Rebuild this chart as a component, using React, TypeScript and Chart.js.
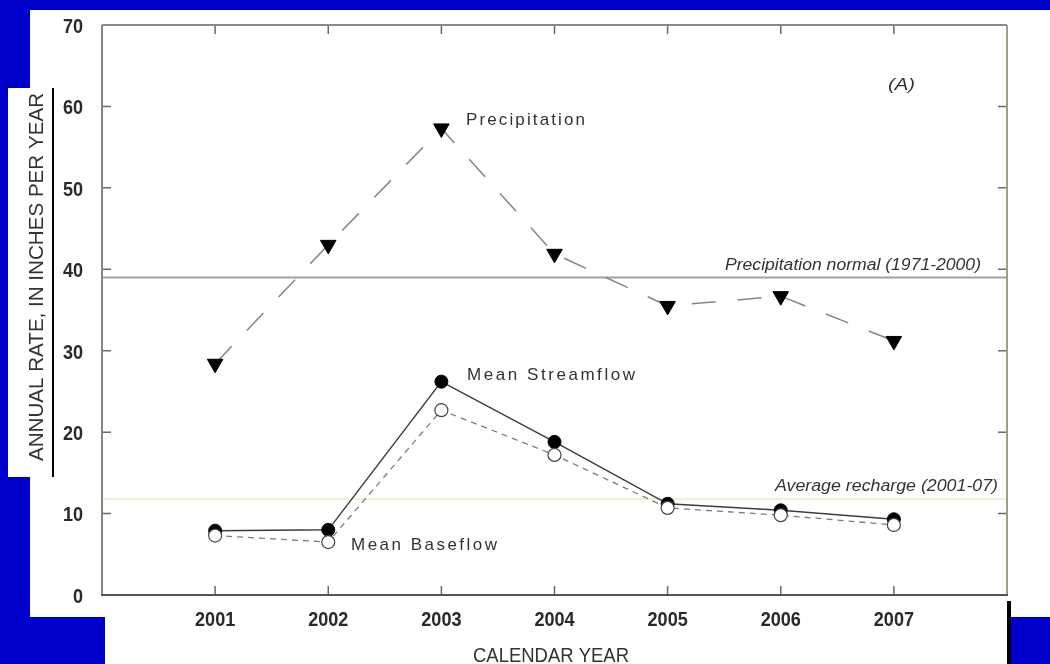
import React, { useEffect, useRef } from 'react';
import { Chart, registerables } from 'chart.js';

Chart.register(...registerables);

// ---- data ----
const years = [2001, 2002, 2003, 2004, 2005, 2006, 2007];
const precipitation = [28.4, 43.0, 57.3, 41.9, 35.5, 36.7, 31.2];
const streamflow = [7.9, 8.0, 26.2, 18.8, 11.2, 10.4, 9.3];
const baseflow = [7.3, 6.5, 22.7, 17.2, 10.7, 9.8, 8.6];
const xTickLabels = ['2001', '2002', '2003', '2004', '2005', '2006', '2007'];
const yTickValues = [0, 10, 20, 30, 40, 50, 60, 70];
const precipNormal = 39.0;
const avgRecharge = 11.8;
const xMin = 2000;
const xMax = 2008;

const TEXT = '#333333';
const SANS = "'Liberation Sans', Arial, sans-serif";

function fitText(
  ctx: CanvasRenderingContext2D,
  text: string,
  x: number,
  y: number,
  w: number,
  font: string,
  mode: 'scale' | 'space'
) {
  ctx.save();
  ctx.font = font;
  ctx.fillStyle = TEXT;
  ctx.textBaseline = 'middle';
  ctx.textAlign = 'left';
  (ctx as any).letterSpacing = '0px';
  const m = ctx.measureText(text).width;
  if (mode === 'space') {
    const s = (w - m) / (text.length - 1);
    (ctx as any).letterSpacing = s + 'px';
    ctx.fillText(text, x, y);
  } else {
    ctx.translate(x, y);
    ctx.scale(w / m, 1);
    ctx.fillText(text, 0, 0);
  }
  ctx.restore();
}

function narrowLabel(
  ctx: CanvasRenderingContext2D,
  text: string,
  x: number,
  y: number,
  align: 'center' | 'right'
) {
  ctx.save();
  ctx.font = `bold 21px ${SANS}`;
  ctx.fillStyle = '#2a2a2a';
  ctx.textBaseline = 'middle';
  ctx.textAlign = align;
  ctx.translate(x, y);
  ctx.scale(0.86, 1);
  ctx.fillText(text, 0, 0);
  ctx.restore();
}

const framePlugin = {
  id: 'framePlugin',
  beforeDatasetsDraw(chart: any) {
    const { ctx, chartArea: a, scales } = chart;
    const x = scales.x;
    const y = scales.y;
    ctx.save();
    // reference lines
    const yr = y.getPixelForValue(avgRecharge);
    ctx.strokeStyle = '#ebead0';
    ctx.lineWidth = 1.5;
    ctx.beginPath();
    ctx.moveTo(a.left, yr);
    ctx.lineTo(a.right, yr);
    ctx.stroke();
    const yn = y.getPixelForValue(precipNormal);
    ctx.strokeStyle = '#a2a2a2';
    ctx.lineWidth = 2;
    ctx.beginPath();
    ctx.moveTo(a.left, yn);
    ctx.lineTo(a.right, yn);
    ctx.stroke();

    // inward ticks
    ctx.strokeStyle = '#6a6a6a';
    ctx.lineWidth = 1.5;
    const tl = 9;
    x.ticks.forEach((t: any) => {
      if (!xTickLabels.includes(String(t.value))) return;
      const px = x.getPixelForValue(t.value);
      ctx.beginPath();
      ctx.moveTo(px, a.bottom);
      ctx.lineTo(px, a.bottom - tl);
      ctx.moveTo(px, a.top);
      ctx.lineTo(px, a.top + tl);
      ctx.stroke();
    });
    y.ticks.forEach((t: any) => {
      if (t.value <= y.min || t.value >= y.max) return;
      const py = y.getPixelForValue(t.value);
      ctx.beginPath();
      ctx.moveTo(a.left, py);
      ctx.lineTo(a.left + tl, py);
      ctx.moveTo(a.right, py);
      ctx.lineTo(a.right - tl, py);
      ctx.stroke();
    });

    // frame
    ctx.lineWidth = 2;
    ctx.strokeStyle = '#8a8a8a';
    ctx.beginPath();
    ctx.moveTo(a.left, a.top);
    ctx.lineTo(a.right, a.top);
    ctx.stroke();
    ctx.strokeStyle = '#a39c82';
    ctx.beginPath();
    ctx.moveTo(a.right, a.top);
    ctx.lineTo(a.right, a.bottom);
    ctx.stroke();
    ctx.strokeStyle = '#7f8a7f';
    ctx.beginPath();
    ctx.moveTo(a.left, a.top);
    ctx.lineTo(a.left, a.bottom);
    ctx.stroke();
    ctx.strokeStyle = '#555555';
    ctx.beginPath();
    ctx.moveTo(a.left - 1, a.bottom);
    ctx.lineTo(a.right + 1, a.bottom);
    ctx.stroke();

    // tick labels from the scales
    x.ticks.forEach((t: any) => {
      const s = String(t.value);
      if (!xTickLabels.includes(s)) return;
      narrowLabel(ctx, s, x.getPixelForValue(t.value), a.bottom + 25, 'center');
    });
    y.ticks.forEach((t: any) => {
      narrowLabel(ctx, String(t.value), a.left - 19, y.getPixelForValue(t.value) + 2, 'right');
    });
    ctx.restore();
  },
  afterDraw(chart: any) {
    const { ctx } = chart;
    fitText(ctx, 'Precipitation', 466, 120, 119, `17px ${SANS}`, 'space');
    fitText(ctx, 'Mean Streamflow', 467, 375, 168, `17px ${SANS}`, 'space');
    fitText(ctx, 'Mean Baseflow', 351, 545, 146, `17px ${SANS}`, 'space');
    fitText(ctx, 'Precipitation normal (1971-2000)', 725, 266, 256, `italic 16px ${SANS}`, 'scale');
    fitText(ctx, 'Average recharge (2001-07)', 775, 487, 223, `italic 16px ${SANS}`, 'scale');
    fitText(ctx, '(A)', 888, 85, 27, `italic 17px ${SANS}`, 'scale');
    fitText(ctx, 'CALENDAR YEAR', 473, 656, 156, `21px ${SANS}`, 'scale');
    ctx.save();
    ctx.translate(37, 277);
    ctx.rotate(-Math.PI / 2);
    fitText(ctx, 'ANNUAL RATE, IN INCHES PER YEAR', -184, 0, 368, `21px ${SANS}`, 'scale');
    ctx.restore();
  },
};

export default function App() {
  const ref = useRef<HTMLCanvasElement | null>(null);
  useEffect(() => {
    if (!ref.current) return;
    const chart = new Chart(ref.current, {
      type: 'line',
      data: {
        datasets: [
          {
            label: 'Mean Baseflow',
            data: years.map((x, i) => ({ x, y: baseflow[i] })),
            order: 0,
            borderColor: '#7c7c7c',
            borderWidth: 1.3,
            borderDash: [6, 5],
            pointStyle: 'circle',
            pointRadius: 6.5,
            pointBackgroundColor: '#ffffff',
            pointBorderColor: '#444444',
            pointBorderWidth: 1.2,
            tension: 0,
          },
          {
            label: 'Mean Streamflow',
            data: years.map((x, i) => ({ x, y: streamflow[i] })),
            order: 1,
            borderColor: '#3c3c3c',
            borderWidth: 1.5,
            pointStyle: 'circle',
            pointRadius: 6.5,
            pointBackgroundColor: '#000000',
            pointBorderColor: '#000000',
            pointBorderWidth: 1,
            tension: 0,
          },
          {
            label: 'Precipitation',
            data: years.map((x, i) => ({ x, y: precipitation[i] })),
            order: 2,
            borderColor: '#858585',
            borderWidth: 1.5,
            borderDash: [24, 22],
            pointStyle: 'triangle',
            pointRotation: 180,
            pointRadius: 9,
            pointBackgroundColor: '#000000',
            pointBorderColor: '#000000',
            pointBorderWidth: 1,
            tension: 0,
          },
        ],
      },
      options: {
        animation: false,
        responsive: true,
        maintainAspectRatio: false,
        layout: { padding: { left: 0, top: 25, right: 43, bottom: 0 } },
        plugins: { legend: { display: false }, tooltip: { enabled: false } },
        scales: {
          x: {
            type: 'linear',
            min: xMin,
            max: xMax,
            grid: { display: false, drawTicks: false },
            border: { display: false },
            afterFit: (s: any) => {
              s.height = 69;
              s.paddingLeft = 0;
              s.paddingRight = 0;
            },
            ticks: { display: false, stepSize: 1, autoSkip: false },
          },
          y: {
            min: yTickValues[0],
            max: yTickValues[yTickValues.length - 1],
            grid: { display: false, drawTicks: false },
            border: { display: false },
            afterFit: (s: any) => {
              s.width = 102;
              s.paddingTop = 0;
              s.paddingBottom = 0;
            },
            ticks: { display: false, stepSize: 10 },
          },
        },
      },
      plugins: [framePlugin],
    });
    return () => chart.destroy();
  }, []);

  return (
    <div style={{ position: 'fixed', left: 0, top: 0, width: 1050, height: 664, background: '#0000cc', overflow: 'hidden' }}>
      <div style={{ position: 'absolute', left: 30, top: 10, width: 1020, height: 607, background: '#ffffff' }} />
      <div style={{ position: 'absolute', left: 105, top: 617, width: 906, height: 47, background: '#ffffff' }} />
      <div style={{ position: 'absolute', left: 8, top: 88, width: 45, height: 389, background: '#ffffff' }} />
      <div style={{ position: 'absolute', left: 52, top: 88, width: 2, height: 389, background: '#000000' }} />
      <div style={{ position: 'absolute', left: 1007, top: 601, width: 4, height: 63, background: '#000000' }} />
      <div style={{ position: 'absolute', left: 0, top: 0, width: 1050, height: 664 }}>
        <canvas ref={ref} />
      </div>
    </div>
  );
}
